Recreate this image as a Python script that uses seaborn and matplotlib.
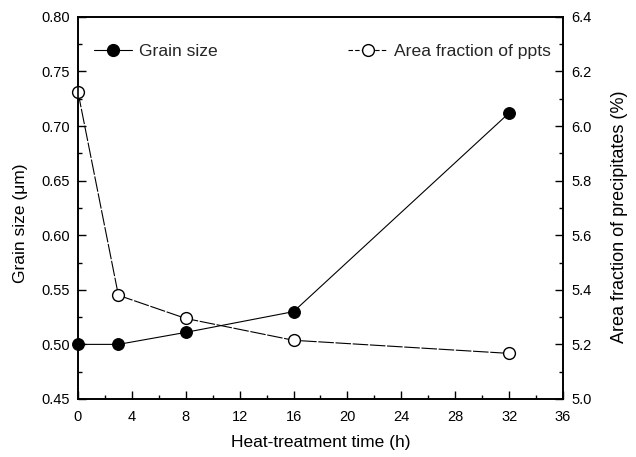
import matplotlib
matplotlib.use("Agg")
import matplotlib.pyplot as plt
import seaborn as sns
import pandas as pd
from matplotlib.ticker import MultipleLocator
from matplotlib.lines import Line2D

sns.set_theme(style="white")
plt.rcParams['font.family'] = ['Liberation Sans', 'DejaVu Sans']

time_h = [0, 3, 8, 16, 32]
grain_size = [0.500, 0.500, 0.511, 0.530, 0.712]
area_fraction = [6.125, 5.38, 5.295, 5.215, 5.167]

df = pd.DataFrame({"time": time_h, "grain": grain_size, "area": area_fraction})

fig = plt.figure(figsize=(6.36, 4.57), dpi=100)
ax = fig.add_axes([0.1226, 0.127, 0.7626, 0.836])
ax2 = ax.twinx()

sns.lineplot(data=df, x="time", y="grain", ax=ax, color="black", lw=0.8,
             marker="o", markersize=8.5, markerfacecolor="black",
             markeredgecolor="black", linestyle="-", clip_on=False)
sns.lineplot(data=df, x="time", y="area", ax=ax2, color="black", lw=0.8,
             marker="o", markersize=8.5, markerfacecolor="white",
             markeredgecolor="black", markeredgewidth=1.0, linestyle=(0, (14, 1.5)), clip_on=False)

ax.set_xlim(0, 36)
ax.set_ylim(0.45, 0.80)
ax2.set_ylim(5.0, 6.4)

ax.xaxis.set_major_locator(MultipleLocator(4))
ax.xaxis.set_minor_locator(MultipleLocator(2))
ax.yaxis.set_major_locator(MultipleLocator(0.05))
ax.yaxis.set_minor_locator(MultipleLocator(0.025))
ax2.yaxis.set_major_locator(MultipleLocator(0.2))
ax2.yaxis.set_minor_locator(MultipleLocator(0.1))

ax.yaxis.set_major_formatter(plt.FormatStrFormatter('%.2f'))
ax2.yaxis.set_major_formatter(plt.FormatStrFormatter('%.1f'))

for a in (ax, ax2):
    a.tick_params(which='major', direction='in', length=6, width=1, labelsize=10.5,
                  color='black', labelcolor='black', pad=6)
    a.tick_params(which='minor', direction='in', length=3, width=1, color='black')
    for s in a.spines.values():
        s.set_color('black')
        s.set_linewidth(1.2)
ax.tick_params(axis='x', which='both', bottom=True, top=False)
ax.tick_params(axis='x', which='major', pad=8)
ax.tick_params(axis='y', which='both', left=True, right=False)
ax2.tick_params(axis='y', which='both', right=True, left=False)

ax.set_xlabel("Heat-treatment time (h)", fontsize=12.5, color='black', labelpad=8)
ax.set_ylabel("Grain size (\u03bcm)", fontsize=12.5, color='black')
ax2.set_ylabel("Area fraction of precipitates (%)", fontsize=13, color='black')
ax.yaxis.set_label_coords(-0.103, 0.46)
ax2.yaxis.set_label_coords(1.099, 0.476)

h1 = Line2D([], [], color='black', lw=0.8, marker='o', markersize=8.5,
            markerfacecolor='black', markeredgecolor='black')
h2 = Line2D([], [], color='black', lw=0.8, linestyle=(0, (4, 2)), marker='o', markersize=8.5,
            markerfacecolor='white', markeredgecolor='black')
leg1 = ax2.legend([h1], ["Grain size"], loc='upper left', bbox_to_anchor=(0.0, 0.97),
                  frameon=False, fontsize=12.6, handlelength=2.2, handletextpad=0.4)
ax2.add_artist(leg1)
ax2.legend([h2], ["Area fraction of ppts"], loc='upper left', bbox_to_anchor=(0.525, 0.97),
           frameon=False, fontsize=12.6, handlelength=2.2, handletextpad=0.4)

fig.savefig("out.png", dpi=100)
